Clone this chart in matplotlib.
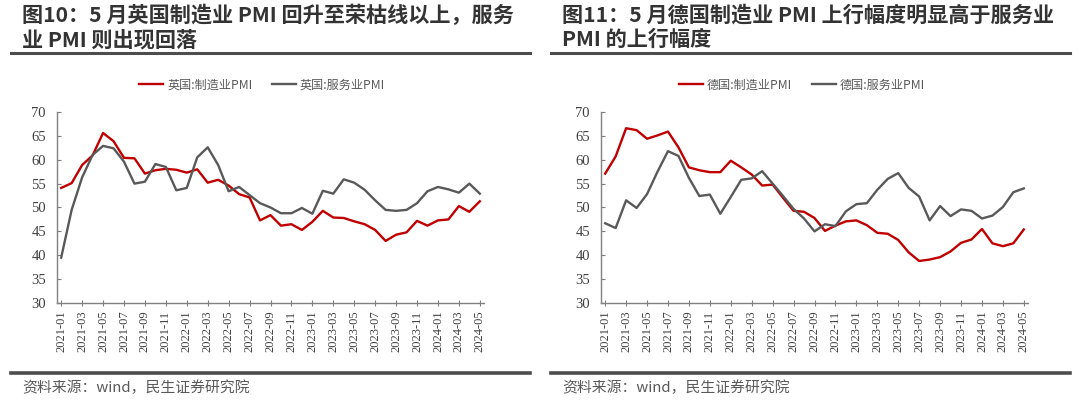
import matplotlib
matplotlib.use("Agg")
import matplotlib.pyplot as plt
from matplotlib.lines import Line2D

plt.rcParams['font.family'] = ['Noto Sans CJK SC', 'DejaVu Sans']

# ---- data ----
months = [f"{y}-{m:02d}" for y in (2021, 2022, 2023, 2024) for m in range(1, 13)][:41]

uk_mfg = [54.1, 55.1, 58.9, 60.9, 65.6, 63.9, 60.4, 60.3, 57.1, 57.8, 58.1, 57.9,
          57.3, 58.0, 55.2, 55.8, 54.6, 52.8, 52.1, 47.3, 48.4, 46.2, 46.5, 45.3,
          47.0, 49.3, 47.9, 47.8, 47.1, 46.5, 45.3, 43.0, 44.3, 44.8, 47.2, 46.2,
          47.3, 47.5, 50.3, 49.1, 51.3]
uk_svc = [39.5, 49.5, 56.3, 61.0, 62.9, 62.4, 59.6, 55.0, 55.4, 59.1, 58.5, 53.6,
          54.1, 60.5, 62.6, 58.9, 53.4, 54.3, 52.6, 50.9, 50.0, 48.8, 48.8, 49.9,
          48.7, 53.5, 52.9, 55.9, 55.2, 53.7, 51.5, 49.5, 49.3, 49.5, 50.9, 53.4,
          54.3, 53.8, 53.1, 55.0, 52.9]
de_mfg = [57.1, 60.7, 66.6, 66.2, 64.4, 65.1, 65.9, 62.6, 58.4, 57.8, 57.4, 57.4,
          59.8, 58.4, 56.9, 54.6, 54.8, 52.0, 49.3, 49.1, 47.8, 45.1, 46.2, 47.1,
          47.3, 46.3, 44.7, 44.5, 43.2, 40.6, 38.8, 39.1, 39.6, 40.8, 42.6, 43.3,
          45.5, 42.5, 41.9, 42.5, 45.4]
de_svc = [46.7, 45.7, 51.5, 49.9, 52.8, 57.5, 61.8, 60.8, 56.2, 52.4, 52.7, 48.7,
          52.2, 55.8, 56.1, 57.6, 55.0, 52.4, 49.7, 47.7, 45.0, 46.5, 46.1, 49.2,
          50.7, 50.9, 53.7, 56.0, 57.2, 54.1, 52.3, 47.3, 50.3, 48.2, 49.6, 49.3,
          47.7, 48.3, 50.1, 53.2, 54.0]

titles = ["图10：5 月英国制造业 PMI 回升至荣枯线以上，服务\n业 PMI 则出现回落",
          "图11：5 月德国制造业 PMI 上行幅度明显高于服务业\nPMI 的上行幅度"]
legend_labels = [["英国:制造业PMI", "英国:服务业PMI"],
                 ["德国:制造业PMI", "德国:服务业PMI"]]
source = "资料来源：wind，民生证券研究院"
yticks = [30, 35, 40, 45, 50, 55, 60, 65, 70]

RED = '#C00000'
GRAY = '#595959'
TXT = '#595959'

W, H = 1080, 409
fig = plt.figure(figsize=(W / 100, H / 100), dpi=100)

panels = [(uk_mfg, uk_svc), (de_mfg, de_svc)]
offsets = [0, 540]
ax_left_px = [57, 601]

for i, (s1, s2) in enumerate(panels):
    off = offsets[i]
    # title
    fig.text((off + 22) / W, 1 - 5 / H, titles[i], ha='left', va='top',
             fontsize=15.2, fontweight='bold', color='#333333', linespacing=1.18)
    # separators
    fig.add_artist(Line2D([(off + 11) / W, (off + 530) / W], [1 - 52.5 / H] * 2,
                          color='#4d4d4d', lw=2.2))
    fig.add_artist(Line2D([(off + 11) / W, (off + 530) / W], [1 - 373 / H] * 2,
                          color='#4d4d4d', lw=2.6))
    fig.text((off + 22) / W, 1 - 388 / H, source, ha='left', va='center',
             fontsize=10.7, color=TXT)

    l = ax_left_px[i]
    ax = fig.add_axes([l / W, (H - 303) / H, 427 / W, 191 / H])
    x = list(range(len(months)))
    ax.plot(x, s1, color=RED, lw=1.7, label=legend_labels[i][0])
    ax.plot(x, s2, color=GRAY, lw=1.7, label=legend_labels[i][1])
    ax.set_xlim(-0.4, len(months) - 0.6)
    ax.set_ylim(30, 70)
    ax.set_yticks(yticks)
    ax.set_yticklabels([str(v) for v in yticks], fontfamily='Liberation Serif',
                       fontsize=10.5, color='#404040')
    ax.set_xticks(x[::2])
    ax.set_xticklabels(months[::2], rotation=90, fontfamily='Liberation Serif',
                       fontsize=9, color='#404040')
    for sp in ('top', 'right'):
        ax.spines[sp].set_visible(False)
    for sp in ('left', 'bottom'):
        ax.spines[sp].set_color('#808080')
        ax.spines[sp].set_linewidth(1.0)
    ax.tick_params(axis='y', direction='in', length=3, color='#808080', pad=8)
    ax.tick_params(axis='x', direction='inout', length=5, color='#808080', pad=3)
    ax.set_facecolor('none')

    leg = fig.legend(handles=ax.get_lines(), loc='center',
                     bbox_to_anchor=((off + 262) / W, 1 - 85 / H), ncol=2,
                     frameon=False, fontsize=8.7, handlelength=2.0,
                     columnspacing=1.6, handletextpad=0.3)
    for t in leg.get_texts():
        t.set_color(TXT)

fig.savefig('out.png', dpi=100)
